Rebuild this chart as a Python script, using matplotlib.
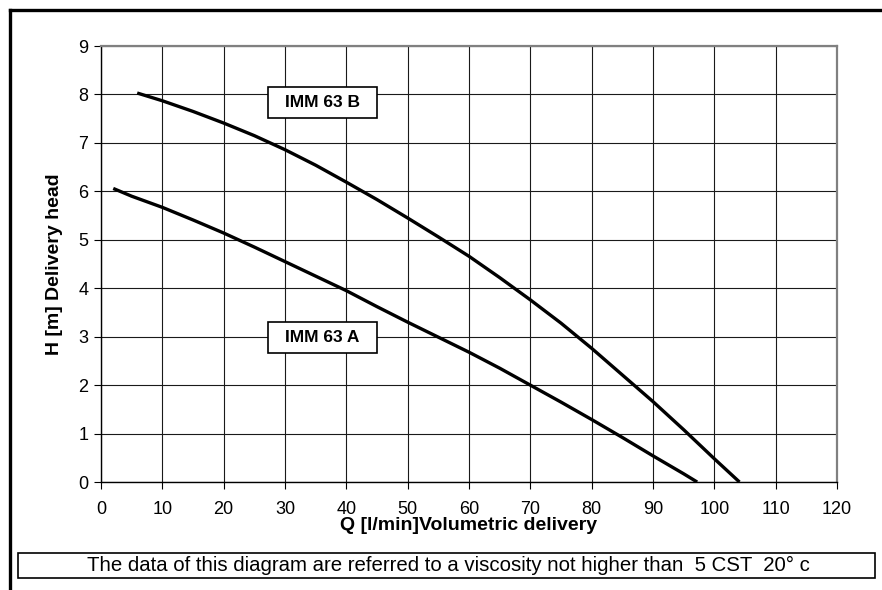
import matplotlib
matplotlib.use("Agg")
import matplotlib.pyplot as plt
from matplotlib.patches import Rectangle
from matplotlib.lines import Line2D

plt.rcParams['font.family'] = ['Liberation Sans', 'DejaVu Sans']

# -------------------------------
# Data
# -------------------------------
q_b = [5.9, 10, 15, 20, 25, 30, 35, 40, 45, 50, 55, 60, 65, 70, 75, 80, 85, 90, 95, 100, 104.1]
h_b = [8.03, 7.87, 7.65, 7.41, 7.15, 6.86, 6.54, 6.19, 5.83, 5.45, 5.06, 4.66, 4.22, 3.76, 3.28, 2.76,
       2.21, 1.66, 1.08, 0.48, 0.0]

q_a = [2, 5, 10, 15, 20, 25, 30, 35, 40, 45, 50, 55, 60, 65, 70, 75, 80, 85, 90, 95, 97.2]
h_a = [6.06, 5.9, 5.67, 5.41, 5.14, 4.85, 4.55, 4.25, 3.95, 3.62, 3.3, 2.99, 2.68, 2.35, 2.0,
       1.65, 1.29, 0.92, 0.54, 0.17, 0.0]

x_ticks = list(range(0, 121, 10))
y_ticks = list(range(0, 10))

labels = ["IMM 63 B", "IMM 63 A"]
label_pos = [(36.1, 7.84), (36.1, 2.99)]

note = "The data of this diagram are referred to a viscosity not higher than  5 CST  20° c"

# -------------------------------
# Figure
# -------------------------------
fig = plt.figure(figsize=(8.82, 5.90), dpi=100)
ax = fig.add_axes([0.1145, 0.183, 0.8345, 0.739])

ax.plot(q_b, h_b, color='black', lw=2.4, solid_capstyle='butt', solid_joinstyle='round', zorder=3)
ax.plot(q_a, h_a, color='black', lw=2.4, solid_capstyle='butt', solid_joinstyle='round', zorder=3)

ax.set_xlim(0, 120)
ax.set_ylim(0, 9)
ax.set_xticks(x_ticks)
ax.set_yticks(y_ticks)
ax.grid(True, color='#1a1a1a', lw=0.8)
ax.set_axisbelow(True)
ax.tick_params(direction='out', length=5, width=0.8, labelsize=13, pad=4)
ax.tick_params(axis='x', pad=9)

for s in ['left', 'bottom']:
    ax.spines[s].set_color('black')
    ax.spines[s].set_linewidth(1.0)
for s in ['top', 'right']:
    ax.spines[s].set_color('#808080')
    ax.spines[s].set_linewidth(1.6)

ax.set_xlabel("Q [l/min]Volumetric delivery", fontsize=14, fontweight='bold', labelpad=-1)
ax.set_ylabel("H [m] Delivery head", fontsize=14, fontweight='bold', labelpad=11)

# label boxes
for txt, (x, y) in zip(labels, label_pos):
    ax.add_patch(Rectangle((x - 8.9, y - 0.32), 17.8, 0.64, facecolor='white',
                           edgecolor='black', lw=1.2, zorder=4))
    ax.text(x, y, txt, ha='center', va='center', fontsize=12.5, fontweight='bold', zorder=5)

# outer frame (left and top)
fig.add_artist(Line2D([0.0113, 0.0113], [0.0, 0.983], color='black', lw=2.4))
fig.add_artist(Line2D([0.0113, 1.0], [0.983, 0.983], color='black', lw=2.4))

# footnote box
fig.add_artist(Rectangle((0.0204, 0.0205), 0.9716, 0.0422, transform=fig.transFigure,
                         facecolor='white', edgecolor='black', lw=1.2))
fig.text(0.508, 0.0416, note, ha='center', va='center', fontsize=14.7)

plt.savefig("out.png", dpi=100)
